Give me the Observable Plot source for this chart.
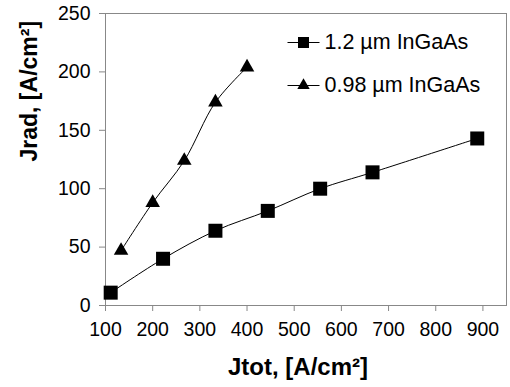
<!DOCTYPE html>
<html>
<head>
<meta charset="utf-8">
<script src="https://cdn.jsdelivr.net/npm/d3@7"></script>
<script src="https://cdn.jsdelivr.net/npm/@observablehq/plot@0.6"></script>
<style>
  html, body { margin: 0; padding: 0; background: #fff; }
  #chart svg { display: block; }
</style>
</head>
<body>
<div id="chart"></div>
<script>
// Series 1: 1.2 µm InGaAs (squares)
const sqX = [111, 222, 333, 444, 555, 666, 888];
const sqY = [11, 40, 64, 81, 100, 114, 143];
// Series 2: 0.98 µm InGaAs (triangles)
const trX = [133, 200, 267, 333, 400];
const trY = [47, 88, 124, 174, 204];

const seriesNames = ["1.2 µm InGaAs", "0.98 µm InGaAs"];
const xTicks = [100, 200, 300, 400, 500, 600, 700, 800, 900];
const yTicks = [0, 50, 100, 150, 200, 250];
const xTitle = "Jtot, [A/cm²]";
const yTitle = "Jrad, [A/cm²]";

const squares = sqX.map((x, i) => ({x, y: sqY[i]}));
const triangles = trX.map((x, i) => ({x, y: trY[i]}));

const lineSym = {draw(ctx) { ctx.moveTo(-16, 0); ctx.lineTo(16, 0); }};

const font = "'Liberation Sans', Arial, Helvetica, sans-serif";

const chart = Plot.plot({
  width: 510,
  height: 387,
  marginLeft: 105,
  marginRight: 4,
  marginTop: 13,
  marginBottom: 82,
  style: {fontFamily: font, fontSize: "19.5px", color: "black", background: "white"},
  x: {domain: [100, 950]},
  y: {domain: [0, 250]},
  marks: [
    Plot.frame({stroke: "#888"}),
    Plot.axisX({ticks: xTicks, tickSize: 6, tickPadding: 11, fontSize: 19.5, stroke: "#888", fill: "black", label: null, tickFormat: d => String(d)}),
    Plot.axisY({ticks: yTicks, tickSize: 6, tickPadding: 9, fontSize: 19.5, stroke: "#888", fill: "black", label: null, tickFormat: d => String(d)}),
    Plot.line(squares, {x: "x", y: "y", curve: "catmull-rom", stroke: "black", strokeWidth: 1}),
    Plot.line(triangles, {x: "x", y: "y", curve: "catmull-rom", stroke: "black", strokeWidth: 1}),
    Plot.dot(squares, {x: "x", y: "y", symbol: "square", r: 7.9, fill: "black"}),
    Plot.dot(triangles, {x: "x", y: "y", symbol: "triangle", r: 5.4, fill: "black"}),
    // legend
    Plot.dot([0], {frameAnchor: "top-left", dx: 198, dy: 29, symbol: lineSym, stroke: "black", strokeWidth: 1, fill: "none"}),
    Plot.dot([0], {frameAnchor: "top-left", dx: 198, dy: 29, symbol: "square", r: 6.2, fill: "black"}),
    Plot.text([seriesNames[0]], {frameAnchor: "top-left", dx: 219, dy: 29, text: d => d, textAnchor: "start", lineAnchor: "middle", fontSize: 21.5, fill: "black"}),
    Plot.dot([0], {frameAnchor: "top-left", dx: 198, dy: 72, symbol: lineSym, stroke: "black", strokeWidth: 1, fill: "none"}),
    Plot.dot([0], {frameAnchor: "top-left", dx: 198, dy: 72, symbol: "triangle", r: 4.6, fill: "black"}),
    Plot.text([seriesNames[1]], {frameAnchor: "top-left", dx: 219, dy: 72, text: d => d, textAnchor: "start", lineAnchor: "middle", fontSize: 21.5, fill: "black"}),
    // axis titles
    Plot.text([xTitle], {frameAnchor: "bottom", dx: -8, dy: 62, text: d => d, lineAnchor: "middle", fontSize: 24, fontWeight: "bold", fill: "black"}),
    Plot.text([yTitle], {frameAnchor: "left", dx: -76, dy: 2, rotate: -90, text: d => d, lineAnchor: "middle", fontSize: 23, fontWeight: "bold", fill: "black"})
  ]
});
document.getElementById("chart").appendChild(chart);
</script>
</body>
</html>
